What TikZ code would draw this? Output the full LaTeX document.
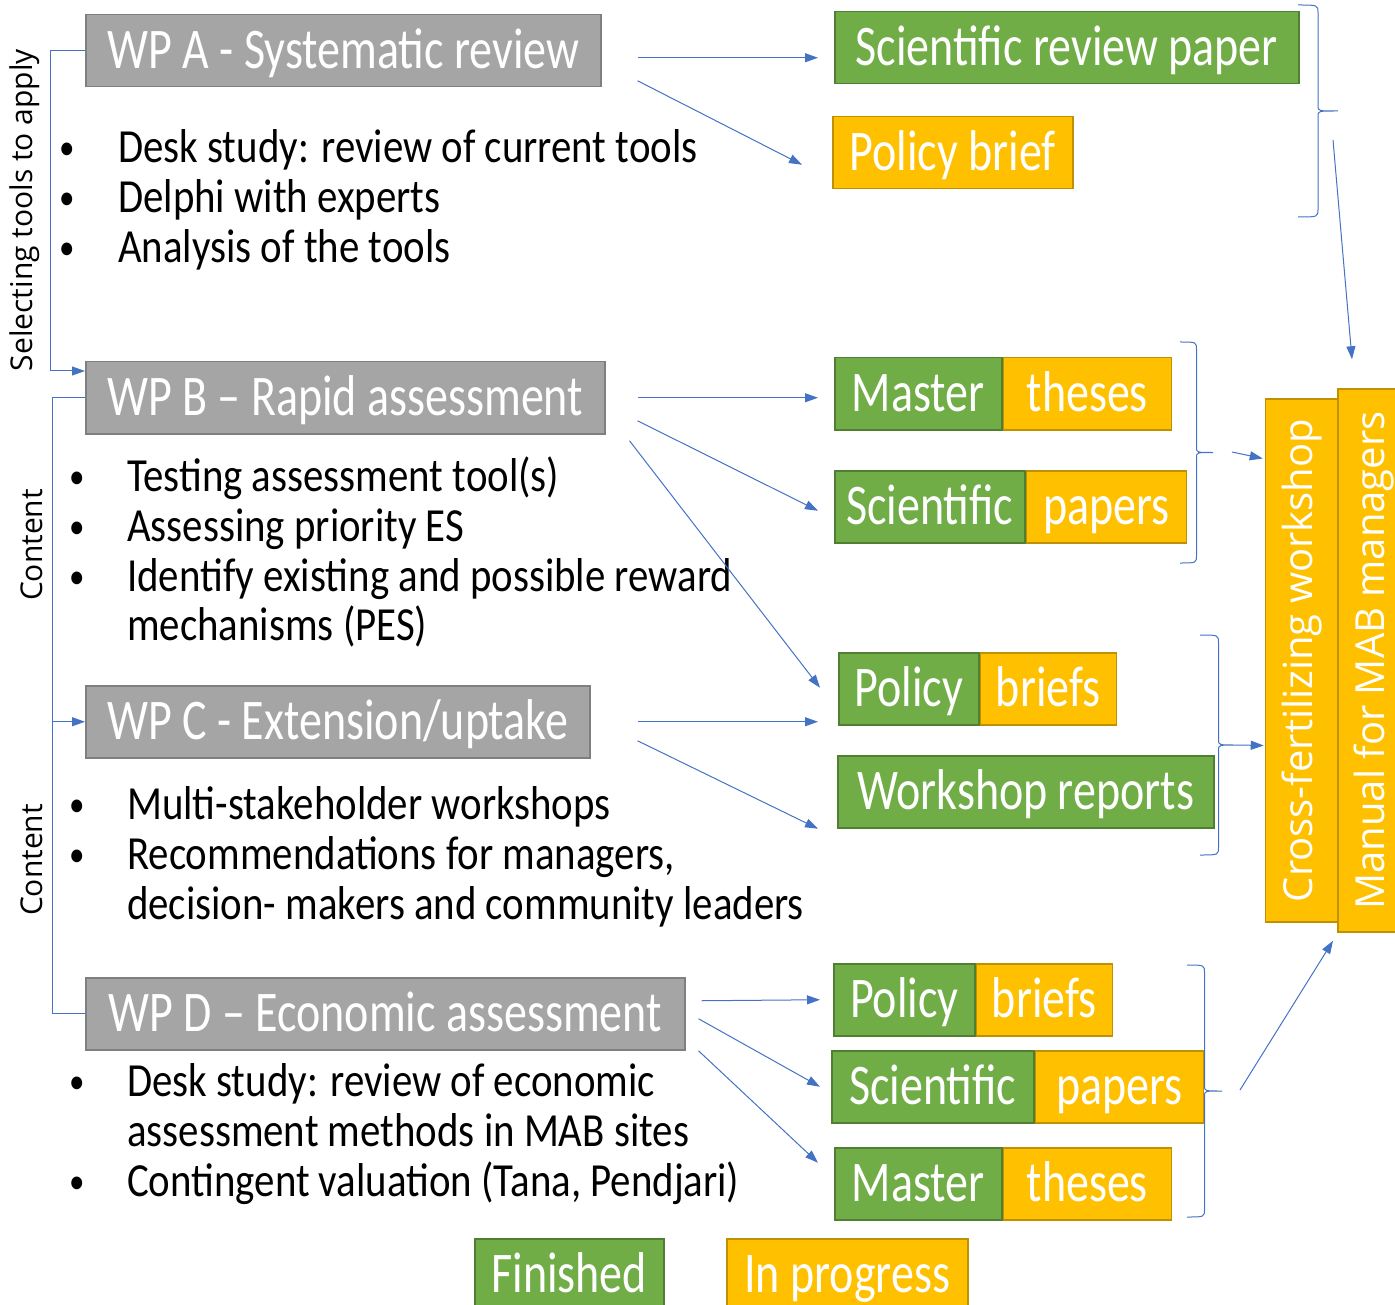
\documentclass[tikz,border=0pt]{standalone}
\usepackage{fontspec}
\setmainfont{Carlito}
\newfontfamily\sidefont{Open Sans}
\newfontfamily\boxface[FakeStretch=0.8]{Carlito}
\newfontfamily\itemface[FakeStretch=0.86]{Carlito}
\usetikzlibrary{arrows.meta, positioning, calc}

\definecolor{wpgrey}{HTML}{A5A5A5}
\definecolor{wpedge}{HTML}{7F7F7F}
\definecolor{fingreen}{HTML}{70AD47}
\definecolor{finedge}{HTML}{507E32}
\definecolor{progorange}{HTML}{FFC000}
\definecolor{progedge}{HTML}{BF9000}
\definecolor{linkblue}{HTML}{4472C4}

\newcommand{\wpfont}{\boxface\fontsize{57.5}{62}\selectfont}
\newcommand{\itemfont}{\itemface\fontsize{47.5}{50}\selectfont}
\newcommand{\sidelabelfont}{\sidefont\fontsize{30}{36}\selectfont}
\newcommand{\vertfont}{\sidefont\fontsize{40}{48}\selectfont}
\newcommand{\bul}{\raisebox{3pt}{\fontsize{36}{36}\selectfont\textbullet}}

% right brace: x, top, bottom, depth
\newcommand{\outbrace}[4]{%
	\draw[link] (#1,#2) .. controls (#1+#4/2,#2) .. (#1+#4/2,#2+8)
	-- (#1+#4/2,{(#2+#3)/2-5}) .. controls (#1+#4/2,{(#2+#3)/2}) .. (#1+#4,{(#2+#3)/2})
	.. controls (#1+#4/2,{(#2+#3)/2}) .. (#1+#4/2,{(#2+#3)/2+5})
	-- (#1+#4/2,#3-8) .. controls (#1+#4/2,#3) .. (#1,#3);}

\begin{document}
\begin{tikzpicture}[
		x=1pt, y=-1pt,
		wp/.style={draw=wpedge, fill=wpgrey, text=white, font=\wpfont, line width=1.5pt,
			minimum height=72pt, inner xsep=4pt, inner ysep=2pt,
			text height=46pt, text depth=10pt, anchor=north west},
		fin/.style={wp, draw=finedge, fill=fingreen},
		prog/.style={wp, draw=progedge, fill=progorange},
		vert/.style={prog, font=\vertfont, anchor=center, rotate=90,
			text height=30pt, text depth=9pt},
		items/.style={font=\itemfont, anchor=base west, inner sep=0pt},
		side/.style={font=\sidelabelfont, rotate=90},
		link/.style={draw=linkblue, line width=1pt},
		>={Triangle[length=13pt, width=9pt]}
		]
		
		\useasboundingbox (0,0) rectangle (1395,1305);
		
		% Work packages
		\node[wp, minimum width=515pt] (wpA) at (85,14) {WP A - Systematic review};
		\node[wp, minimum width=519pt] (wpB) at (85,361) {WP B – Rapid assessment};
		\node[wp, minimum width=504pt] (wpC) at (85,685) {WP C - Extension/uptake};
		\node[wp, minimum width=599pt] (wpD) at (85,977) {WP D – Economic assessment};
		
		% Activities
		\node[items] (listA) at (59,163) {\begin{tabular}[t]{@{}p{59pt}@{}l@{}}
				\bul & Desk study: review of current tools\\
				\bul & Delphi with experts\\
				\bul & Analysis of the tools
		\end{tabular}};
		\node[items] (listB) at (69,491) {\begin{tabular}[t]{@{}p{58pt}@{}l@{}}
				\bul & Testing assessment tool(s)\\
				\bul & Assessing priority ES\\
				\bul & Identify existing and possible reward\\
				& mechanisms (PES)
		\end{tabular}};
		\node[items] (listC) at (69,819) {\begin{tabular}[t]{@{}p{58pt}@{}l@{}}
				\bul & Multi-stakeholder workshops\\
				\bul & Recommendations for managers,\\
				& decision- makers and community leaders
		\end{tabular}};
		\node[items] (listD) at (69,1096) {\begin{tabular}[t]{@{}p{58pt}@{}l@{}}
				\bul & Desk study: review of economic\\
				& assessment methods in MAB sites\\
				\bul & Contingent valuation (Tana, Pendjari)
		\end{tabular}};
		
		% Side labels
		\node[side] (sel) at (25,210) {Selecting tools to apply};
		\node[side] (contB) at (32,545) {Content};
		\node[side] (contC) at (32,860) {Content};
		
		% Outputs
		\node[fin, minimum width=464pt] (srp) at (834,11) {Scientific review paper};
		\node[prog, minimum width=240pt] (pbA) at (832,116) {Policy brief};
		\node[fin, minimum width=167pt] (mtB) at (834,357) {Master};
		\node[prog, minimum width=168pt, right=0pt of mtB] (mtBo) {theses};
		\node[fin, minimum width=190pt] (spB) at (834,470) {Scientific};
		\node[prog, minimum width=160pt, right=0pt of spB] (spBo) {papers};
		\node[fin, minimum width=140pt] (pbC) at (838,652) {Policy};
		\node[prog, minimum width=136pt, right=0pt of pbC] (pbCo) {briefs};
		\node[fin, minimum width=376pt] (wr) at (837,755) {Workshop reports};
		\node[fin, minimum width=141pt] (pbD) at (833,963) {Policy};
		\node[prog, minimum width=136pt, right=0pt of pbD] (pbDo) {briefs};
		\node[fin, minimum width=202pt] (spD) at (831,1050) {Scientific};
		\node[prog, minimum width=168pt, right=0pt of spD] (spDo) {papers};
		\node[fin, minimum width=167pt] (mtD) at (834,1147) {Master};
		\node[prog, minimum width=168pt, right=0pt of mtD] (mtDo) {theses};
		
		% Synthesis
		\node[vert, minimum width=523pt] (cross) at (1301.5,660.5) {Cross-fertilizing workshop};
		\node[vert, minimum width=543pt] (manual) at (1374,660.5) {Manual for MAB managers};
		
		% Legend
		\node[fin, minimum width=189pt] (finished) at (474,1238) {Finished};
		\node[prog, minimum width=241pt] (inprog) at (726,1238) {In progress};
		
		% Links between work packages
		\coordinate (spine) at (52,0);
		\draw[link,->] (wpA.west) -- ++(-35,0) |- ($(wpB.north west)+(0,10)$);
		\draw[link] (wpB.west) -- (wpB.west -| spine) -- (wpD.west -| spine) -- (wpD.west);
		\draw[link,->] (wpC.west -| spine) -- (wpC.west);
		
		% Work packages to outputs
		\draw[link,->] ($(wpA.east)+(36,7)$) -- ($(srp.west)+(-16,10)$);
		\draw[link,->] ($(wpA.east)+(36,30)$) -- ($(pbA.west)+(-30,12)$);
		\draw[link,->] ($(wpB.east)+(32,0)$) -- ($(mtB.west)+(-16,4)$);
		\draw[link,->] ($(wpB.east)+(32,23)$) -- ($(spB.west)+(-16,4)$);
		\draw[link,->] ($(wpB.east)+(24,43)$) -- ($(pbC.west)+(-18,-1)$);
		\draw[link,->] ($(wpC.east)+(47,0)$) -- ($(pbC.west)+(-20,33)$);
		\draw[link,->] ($(wpC.east)+(47,19)$) -- ($(wr.west)+(-19,37)$);
		\draw[link,->] ($(wpD.east)+(16,-13)$) -- ($(pbD.west)+(-13,0)$);
		\draw[link,->] ($(wpD.east)+(13,5)$) -- ($(spD.west)+(-11,0)$);
		\draw[link,->] ($(wpD.east)+(13,37)$) -- ($(mtD.west)+(-16,-21)$);
		
		% Braces round the outputs
		\outbrace{1298}{5}{217}{40}
		\outbrace{1180}{342}{563}{33}
		\outbrace{1200}{635}{855}{37}
		\outbrace{1187}{965}{1217}{35}
		
		% Outputs to synthesis
		\coordinate (outA) at (1333,140);
		\coordinate (outB) at (1232,452);
		\coordinate (outC) at (1237,745);
		\coordinate (outD) at (1240,1090);
		\draw[link,->] (outA) -- ($(manual.east)+(-22,-29)$);
		\draw[link,->] (outB) -- ($(cross.north)+(-2,-202)$);
		\draw[link,->] (outC) -- ($(cross.north)+(-1,85)$);
		\draw[link,->] (outD) -- ($(manual.west)+(-41,8)$);
		
	\end{tikzpicture}
\end{document}
